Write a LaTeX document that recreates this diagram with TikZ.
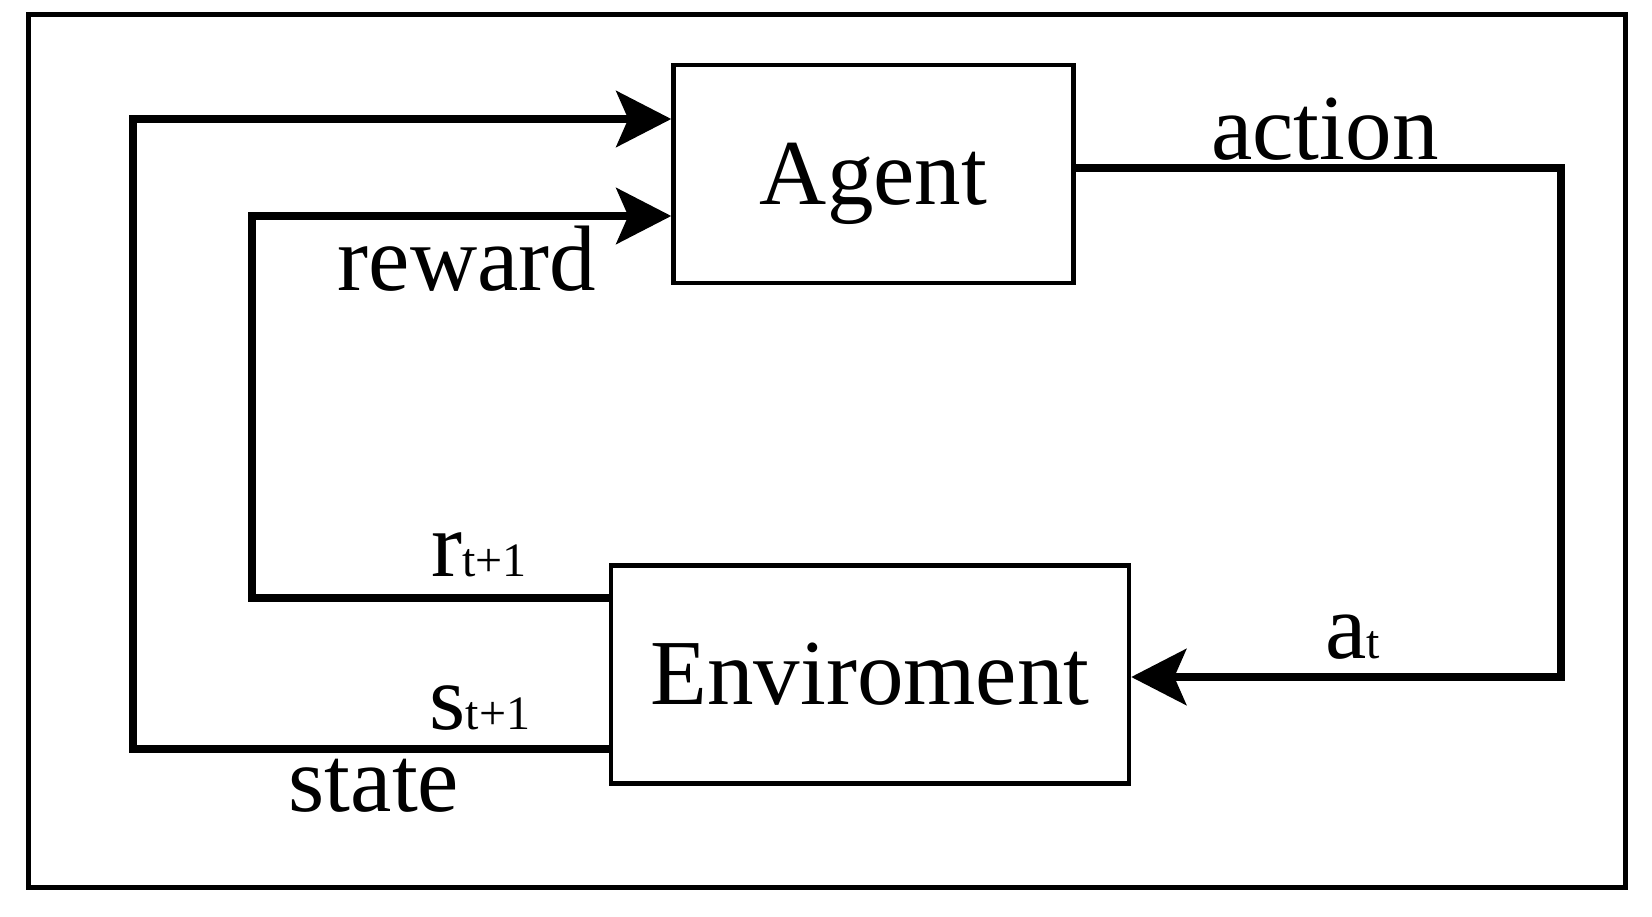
\documentclass[tikz,border=0pt]{standalone}
\usepackage{fontspec}
\setmainfont{Liberation Serif}
\usetikzlibrary{arrows.meta}

\newcommand\lsub[1]{{\fontsize{48}{52}\selectfont #1}}

\begin{document}
\begin{tikzpicture}[x=1pt,y=-1pt,
  box/.style={draw,line width=4.5pt,minimum width=#1,minimum height=218pt,inner sep=0pt},
  wire/.style={line width=7.5pt},
  tip/.style={wire,-{Stealth[length=55pt,width=56pt,inset=12pt]}},
  big/.style={font=\fontsize{93}{96}\selectfont,inner sep=0pt}]

  \useasboundingbox (0,0) rectangle (1652,916);
  \draw[line width=5pt] (28,14) rectangle (1625,887);

  %% the two blocks
  \node[box=400pt,big,text depth=0pt] (agent) at (873.5,174) {Agent};
  \node[box=518pt,big] (env) at (870,674.5) {Enviroment};

  %% corners of the loops
  \coordinate (act) at (1561,677);
  \coordinate (rwd) at (252,216);
  \coordinate (st) at (133,119);

  \draw[tip] ([yshift=6pt]agent.east) -| (act) -- (act -| env.east); %% action
  \draw[tip] ([yshift=76.5pt]env.west) -| (rwd) -- ([yshift=-42pt]agent.west); %% reward
  \draw[tip] ([yshift=-74.5pt]env.west) -| (st) -- ([yshift=55pt]agent.west); %% state

  \node[big] (actlbl) at (1325,129) {action};
  \node[big] (rwdlbl) at (467,259) {reward};
  \node[big] (stlbl) at (374,786) {state};
  \node[big] (rlbl) at (479,555) {r\lsub{t+1}};
  \node[big] (slbl) at (480,708) {s\lsub{t+1}};
  \node[big] (albl) at (1353,637) {a\lsub{t}};

\end{tikzpicture}
\end{document}
